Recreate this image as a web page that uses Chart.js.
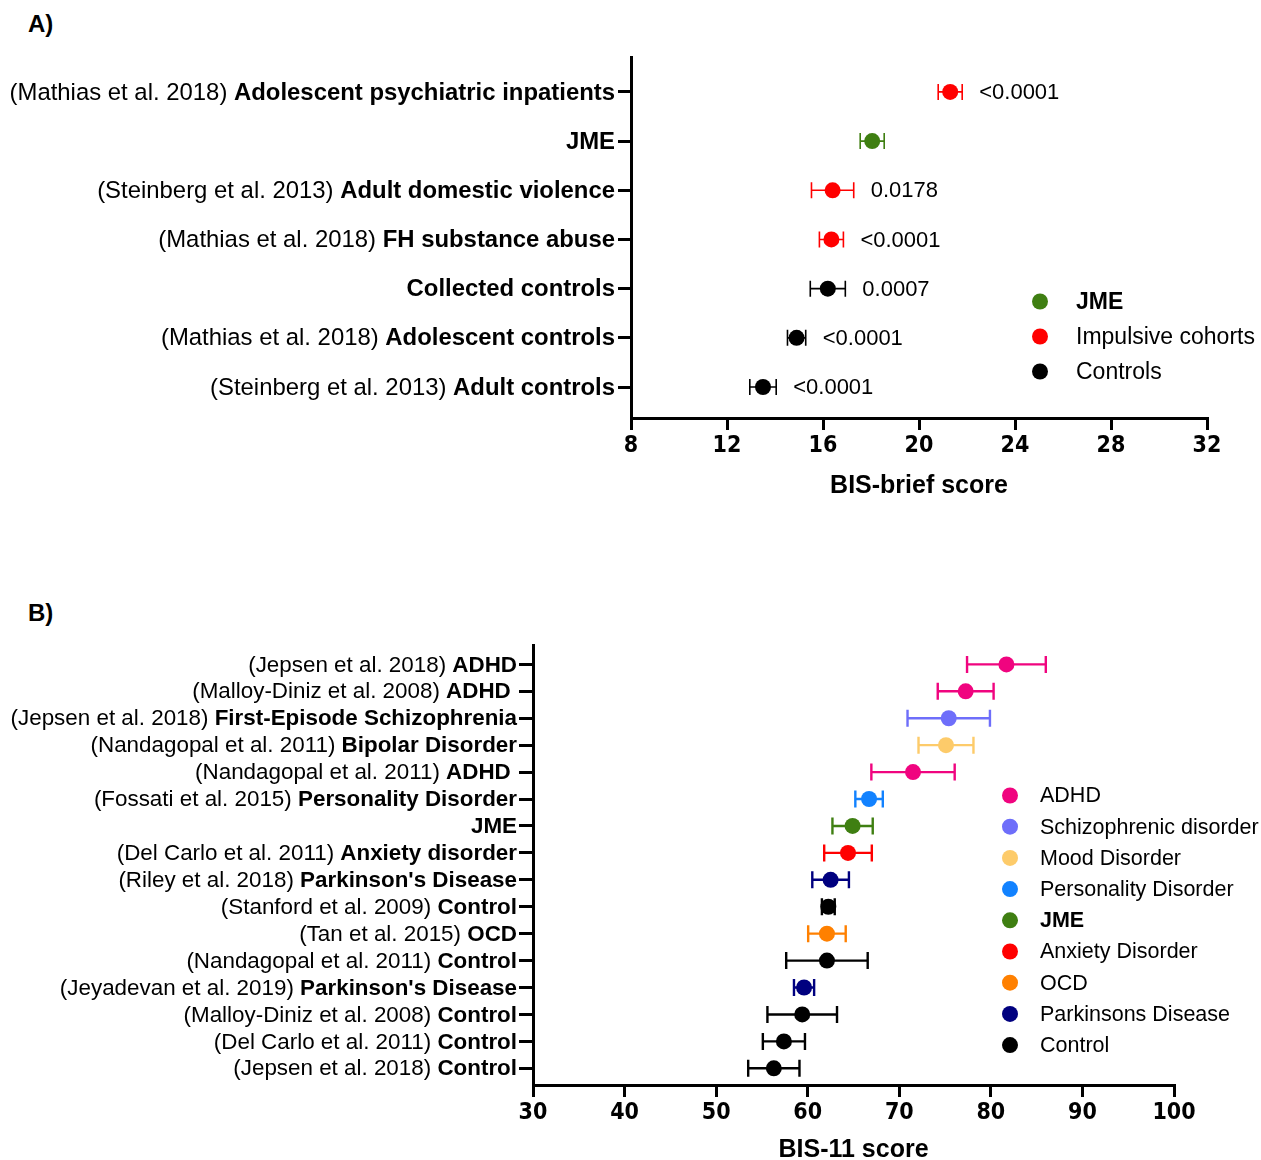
<!DOCTYPE html>
<html>
<head>
<meta charset="utf-8">
<title>BIS-brief and BIS-11 scores</title>
<script src="https://cdn.jsdelivr.net/npm/chart.js@4.4.1/dist/chart.umd.min.js"></script>
<style>
  html, body { margin: 0; padding: 0; background: #fff; overflow: hidden; }
  #page { position: relative; width: 1261px; height: 1160px; }
  .panel-tag { position: absolute; left: 28px; font: bold 24px 'Liberation Sans', Arial, sans-serif; color: #000; }
  canvas { position: absolute; left: 0; }
</style>
</head>
<body>
<div id="page">
  <div class="panel-tag" style="top:10px">A)</div>
  <div class="panel-tag" style="top:599px">B)</div>
  <canvas id="chartA" width="1261" height="530" style="top:0"></canvas>
  <canvas id="chartB" width="1261" height="600" style="top:560px"></canvas>
</div>
<script>
// ── Panel A data: BIS-brief ─────────────────────────────────────────────
var briefStudy  = ['(Mathias et al. 2018) ', '', '(Steinberg et al. 2013) ', '(Mathias et al. 2018) ',
                   '', '(Mathias et al. 2018) ', '(Steinberg et al. 2013) '];
var briefCohort = ['Adolescent psychiatric inpatients', 'JME', 'Adult domestic violence', 'FH substance abuse',
                   'Collected controls', 'Adolescent controls', 'Adult controls'];
var briefMean   = [21.3, 18.05, 16.4, 16.35, 16.2, 14.9, 13.5];
var briefErr    = [0.5, 0.5, 0.88, 0.5, 0.73, 0.38, 0.55];
var briefGroup  = ['Impulsive cohorts', 'JME', 'Impulsive cohorts', 'Impulsive cohorts',
                   'Controls', 'Controls', 'Controls'];
var briefP      = ['<0.0001', '', '0.0178', '<0.0001', '0.0007', '<0.0001', '<0.0001'];
var briefLegend = ['JME', 'Impulsive cohorts', 'Controls'];
var briefColors = ['#3f7f12', '#ff0000', '#000000'];

// ── Panel B data: BIS-11 ────────────────────────────────────────────────
var bisStudy  = ['(Jepsen et al. 2018) ', '(Malloy-Diniz et al. 2008) ', '(Jepsen et al. 2018) ',
                 '(Nandagopal et al. 2011) ', '(Nandagopal et al. 2011) ', '(Fossati et al. 2015) ', '',
                 '(Del Carlo et al. 2011) ', '(Riley et al. 2018) ', '(Stanford et al. 2009) ',
                 '(Tan et al. 2015) ', '(Nandagopal et al. 2011) ', '(Jeyadevan et al. 2019) ',
                 '(Malloy-Diniz et al. 2008) ', '(Del Carlo et al. 2011) ', '(Jepsen et al. 2018) '];
var bisCohort = ['ADHD', 'ADHD ', 'First-Episode Schizophrenia', 'Bipolar Disorder', 'ADHD ',
                 'Personality Disorder', 'JME', 'Anxiety disorder', "Parkinson's Disease", 'Control',
                 'OCD', 'Control', "Parkinson's Disease", 'Control', 'Control', 'Control'];
var bisMean   = [81.7, 77.25, 75.4, 75.1, 71.5, 66.7, 64.9, 64.4, 62.5, 62.25, 62.1, 62.1, 59.6, 59.4, 57.4, 56.3];
var bisErr    = [4.3, 3.05, 4.5, 3.0, 4.55, 1.5, 2.2, 2.6, 2.0, 0.7, 2.05, 4.45, 1.1, 3.8, 2.3, 2.8];
var bisGroup  = ['ADHD', 'ADHD', 'Schizophrenic disorder', 'Mood Disorder', 'ADHD', 'Personality Disorder',
                 'JME', 'Anxiety Disorder', 'Parkinsons Disease', 'Control', 'OCD', 'Control',
                 'Parkinsons Disease', 'Control', 'Control', 'Control'];
var bisLegend = ['ADHD', 'Schizophrenic disorder', 'Mood Disorder', 'Personality Disorder', 'JME',
                 'Anxiety Disorder', 'OCD', 'Parkinsons Disease', 'Control'];
var bisColors = ['#f0047f', '#6e6efa', '#fdcb6a', '#1282ff', '#3f7f12', '#ff0000', '#ff8000', '#00007f', '#000000'];

var FONT   = "'Liberation Sans', Arial, Helvetica, sans-serif";
var NARROW = "'DejaVu Sans', " + FONT;

// ── Helpers ─────────────────────────────────────────────────────────────
function colorFor(group, names, colors) {
  return colors[names.indexOf(group)];
}

function decorPlugin(spec) {
  return {
    id: 'decor',
    beforeDatasetsDraw: function (chart) {
      // error bars (mean ± error) through the chart's own scales
      var ctx = chart.ctx, xs = chart.scales.x, ys = chart.scales.y;
      ctx.save();
      ctx.lineWidth = spec.barWidth;
      spec.mean.forEach(function (m, i) {
        var lo = xs.getPixelForValue(m - spec.err[i]);
        var hi = xs.getPixelForValue(m + spec.err[i]);
        var y  = ys.getPixelForValue(i);
        ctx.strokeStyle = spec.colors[i];
        ctx.beginPath();
        ctx.moveTo(lo, y); ctx.lineTo(hi, y);
        ctx.moveTo(lo, y - spec.cap); ctx.lineTo(lo, y + spec.cap);
        ctx.moveTo(hi, y - spec.cap); ctx.lineTo(hi, y + spec.cap);
        ctx.stroke();
      });
      ctx.restore();
    },
    afterDraw: function (chart) {
      var ctx = chart.ctx, xs = chart.scales.x, ys = chart.scales.y, area = chart.chartArea;
      ctx.save();
      ctx.fillStyle = '#000';
      ctx.textBaseline = 'middle';

      // category labels: regular study + bold cohort
      spec.cohort.forEach(function (c, i) {
        var y = ys.getPixelForValue(i) + 1;
        ctx.textAlign = 'right';
        ctx.font = 'bold ' + spec.labelSize + 'px ' + FONT;
        ctx.fillText(c, spec.labelRight, y);
        var w = ctx.measureText(c).width;
        ctx.font = spec.labelSize + 'px ' + FONT;
        ctx.fillText(spec.study[i], spec.labelRight - w, y);
      });

      // p-values next to the bars
      if (spec.pvals) {
        ctx.textAlign = 'left';
        ctx.font = spec.pSize + 'px ' + FONT;
        spec.pvals.forEach(function (p, i) {
          if (!p) return;
          var hi = xs.getPixelForValue(spec.mean[i] + spec.err[i]);
          ctx.fillText(p, hi + spec.pGap, ys.getPixelForValue(i) + 1);
        });
      }

      // legend
      var lg = spec.legend;
      lg.names.forEach(function (n, i) {
        var y = lg.y + i * lg.step;
        ctx.fillStyle = lg.colors[i];
        ctx.beginPath();
        ctx.arc(lg.x, y, spec.radius, 0, Math.PI * 2);
        ctx.fill();
        ctx.fillStyle = '#000';
        ctx.textAlign = 'left';
        ctx.font = (n === 'JME' ? 'bold ' : '') + lg.size + 'px ' + FONT;
        ctx.fillText(n, lg.textX, y + 1);
      });

      // x-axis title
      ctx.textAlign = 'center';
      ctx.font = 'bold ' + spec.titleSize + 'px ' + FONT;
      ctx.fillText(spec.title, (area.left + area.right) / 2, area.bottom + spec.titleOffset);
      ctx.restore();
    }
  };
}

function makeForest(spec) {
  var points = spec.mean.map(function (m, i) { return { x: m, y: i }; });
  return new Chart(document.getElementById(spec.canvas), {
    type: 'scatter',
    data: {
      datasets: [{
        data: points,
        pointRadius: spec.radius,
        pointHoverRadius: spec.radius,
        pointBorderWidth: 0,
        pointBackgroundColor: spec.colors,
      }],
    },
    options: {
      responsive: false,
      animation: false,
      events: [],
      layout: { padding: { top: spec.padTop, right: spec.padRight, left: 0, bottom: 0 } },
      plugins: { legend: { display: false }, tooltip: { enabled: false } },
      scales: {
        x: {
          type: 'linear', min: spec.xMin, max: spec.xMax,
          afterFit: function (s) { s.height = spec.xAxisHeight; },
          ticks: { stepSize: spec.xStep, color: '#000', padding: 2,
                   font: { family: NARROW, size: 23, weight: 'bold condensed' } },
          grid: { drawOnChartArea: false, color: '#000', lineWidth: 3, tickLength: 12 },
          border: { color: '#000', width: 3 },
        },
        y: {
          type: 'linear', reverse: true, min: spec.yMin, max: spec.yMax,
          afterFit: function (s) { s.width = spec.axisWidth; },
          ticks: { stepSize: 1, includeBounds: false, callback: function () { return ''; } },
          grid: { drawOnChartArea: false, color: '#000', lineWidth: 3, tickLength: spec.yTick },
          border: { color: '#000', width: 3 },
        },
      },
    },
    plugins: [decorPlugin(spec)],
  });
}

// ── Build panels ────────────────────────────────────────────────────────
makeForest({
  canvas: 'chartA',
  study: briefStudy, cohort: briefCohort, mean: briefMean, err: briefErr,
  colors: briefGroup.map(function (g) { return colorFor(g, briefLegend, briefColors); }),
  pvals: briefP, pSize: 22, pGap: 17,
  xMin: 8, xMax: 32, xStep: 4, yMin: -0.71, yMax: 6.63,
  padTop: 57, padRight: 54, axisWidth: 631, xAxisHeight: 112, yTick: 13,
  labelSize: 23.9, labelRight: 615,
  radius: 8, barWidth: 1.6, cap: 8,
  title: 'BIS-brief score', titleSize: 25, titleOffset: 68,
  legend: { names: briefLegend, colors: briefColors, x: 1040, y: 301.5, step: 35, textX: 1076, size: 23 },
});

makeForest({
  canvas: 'chartB',
  study: bisStudy, cohort: bisCohort, mean: bisMean, err: bisErr,
  colors: bisGroup.map(function (g) { return colorFor(g, bisLegend, bisColors); }),
  pvals: null,
  xMin: 30, xMax: 100, xStep: 10, yMin: -0.72, yMax: 15.62,
  padTop: 85, padRight: 87, axisWidth: 533, xAxisHeight: 75, yTick: 14,
  labelSize: 22.4, labelRight: 517,
  radius: 8, barWidth: 2.4, cap: 8.5,
  title: 'BIS-11 score', titleSize: 25, titleOffset: 65,
  legend: { names: bisLegend, colors: bisColors, x: 1010, y: 235.5, step: 31.2, textX: 1040, size: 21.5 },
});
</script>
</body>
</html>
